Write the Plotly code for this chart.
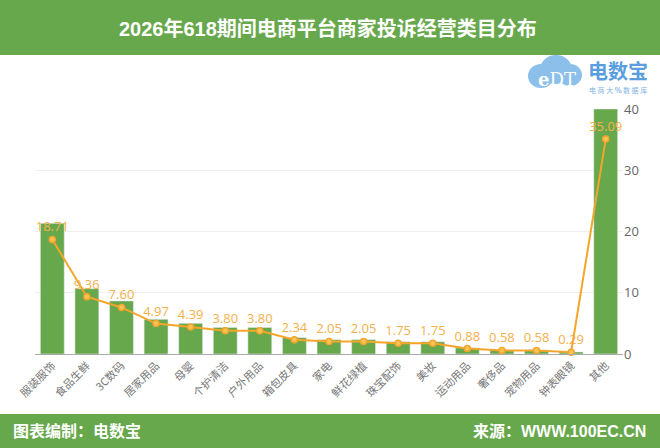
import plotly.graph_objects as go

categories = ["服装服饰", "食品生鲜", "3C数码", "居家用品", "母婴", "个护清洁", "户外用品", "箱包皮具",
              "家电", "鲜花绿植", "珠宝配饰", "美妆", "运动用品", "奢侈品", "宠物用品", "钟表眼镜", "其他"]
values = [18.71, 9.36, 7.60, 4.97, 4.39, 3.80, 3.80, 2.34, 2.05, 2.05, 1.75, 1.75, 0.88, 0.58, 0.58, 0.29, 35.09]
labels = [f"{v:.2f}" for v in values]
right_ticks = [0, 10, 20, 30, 40]

W, H = 660, 448
L, R, T, B = 35, 37, 109, 94
PW, PH = W - L - R, H - T - B

def px(x):
    return (x - L) / PW

def py(y):
    return (H - B - y) / PH

GREEN = "#68a84c"
ORANGE = "#f5a52a"
LABEL_OR = "#f4b04a"
FONT = "Liberation Sans, Noto Sans CJK SC, sans-serif"

fig = go.Figure()
fig.add_trace(go.Bar(x=categories, y=values, marker_color=GREEN, yaxis="y",
                     hoverinfo="skip", showlegend=False))
fig.add_trace(go.Scatter(x=categories, y=values, yaxis="y2", mode="lines+markers+text",
                         line=dict(color=ORANGE, width=2),
                         marker=dict(color="#f7c45a", size=6, line=dict(color=ORANGE, width=1.5)),
                         text=labels, textposition="top center",
                         textfont=dict(color=LABEL_OR, size=13, family="Open Sans, Noto Sans CJK SC"),
                         showlegend=False, cliponaxis=False))

shapes = [
    dict(type="rect", xref="paper", yref="paper", x0=px(0), x1=px(W), y0=py(55), y1=py(0),
         fillcolor=GREEN, line=dict(width=0), layer="below"),
    dict(type="rect", xref="paper", yref="paper", x0=px(0), x1=px(W), y0=py(H), y1=py(414),
         fillcolor=GREEN, line=dict(width=0), layer="below"),
    # cloud logo
    dict(type="circle", xref="paper", yref="paper", x0=px(528), x1=px(554), y0=py(88), y1=py(64),
         fillcolor="#8cc0ea", line=dict(width=0)),
    dict(type="circle", xref="paper", yref="paper", x0=px(540), x1=px(572), y0=py(84), y1=py(55),
         fillcolor="#8cc0ea", line=dict(width=0)),
    dict(type="circle", xref="paper", yref="paper", x0=px(558), x1=px(582), y0=py(86), y1=py(64),
         fillcolor="#8cc0ea", line=dict(width=0)),
]

annotations = [
    dict(text="<b>2026年618期间电商平台商家投诉经营类目分布</b>", xref="paper", yref="paper",
         x=px(328), y=py(28), showarrow=False, xanchor="center", yanchor="middle",
         font=dict(color="white", size=20, family=FONT)),
    dict(text="<b>图表编制：电数宝</b>", xref="paper", yref="paper", x=px(11), y=py(431),
         showarrow=False, xanchor="left", yanchor="middle",
         font=dict(color="white", size=16, family=FONT)),
    dict(text="<b>来源：WWW.100EC.CN</b>", xref="paper", yref="paper", x=px(471), y=py(431),
         showarrow=False, xanchor="left", yanchor="middle",
         font=dict(color="white", size=16, family=FONT)),
    dict(text="<b>e</b>DT", xref="paper", yref="paper", x=px(557), y=py(79), showarrow=False,
         xanchor="center", yanchor="middle",
         font=dict(color="#ffffff", size=18, family="DejaVu Serif")),
    dict(text="<b>电数宝</b>", xref="paper", yref="paper", x=px(618), y=py(70), showarrow=False,
         xanchor="center", yanchor="middle",
         font=dict(color="#5a9ee0", size=20, family="Noto Sans CJK SC")),
    dict(text="电 商 大 <b>%</b> 数 据 库", xref="paper", yref="paper", x=px(618), y=py(90), showarrow=False,
         xanchor="center", yanchor="middle",
         font=dict(color="#7fb4e6", size=7, family="Noto Sans CJK SC")),
]

fig.update_layout(
    width=W, height=H,
    margin=dict(l=L, r=R, t=T, b=B, autoexpand=False),
    paper_bgcolor="white", plot_bgcolor="white",
    bargap=0.31,
    font=dict(family=FONT),
    xaxis=dict(showgrid=False, showline=True, linecolor="#aaaaaa", linewidth=1, automargin=False,
               range=[-0.5, len(categories) - 0.5],
               tickangle=-45, tickfont=dict(size=11, color="#777777", family="Noto Sans CJK SC"),
               ticks=""),
    yaxis=dict(range=[0, 35.09], visible=False, showgrid=False, automargin=False),
    yaxis2=dict(range=[0, 40], overlaying="y", side="right", tickvals=right_ticks, automargin=False,
                showgrid=True, gridcolor="#eeeeee", zeroline=False,
                tickfont=dict(size=13, color="#666666", family="Open Sans"), ticks=""),
    shapes=shapes,
    annotations=annotations,
)

fig.write_html("out.html")
